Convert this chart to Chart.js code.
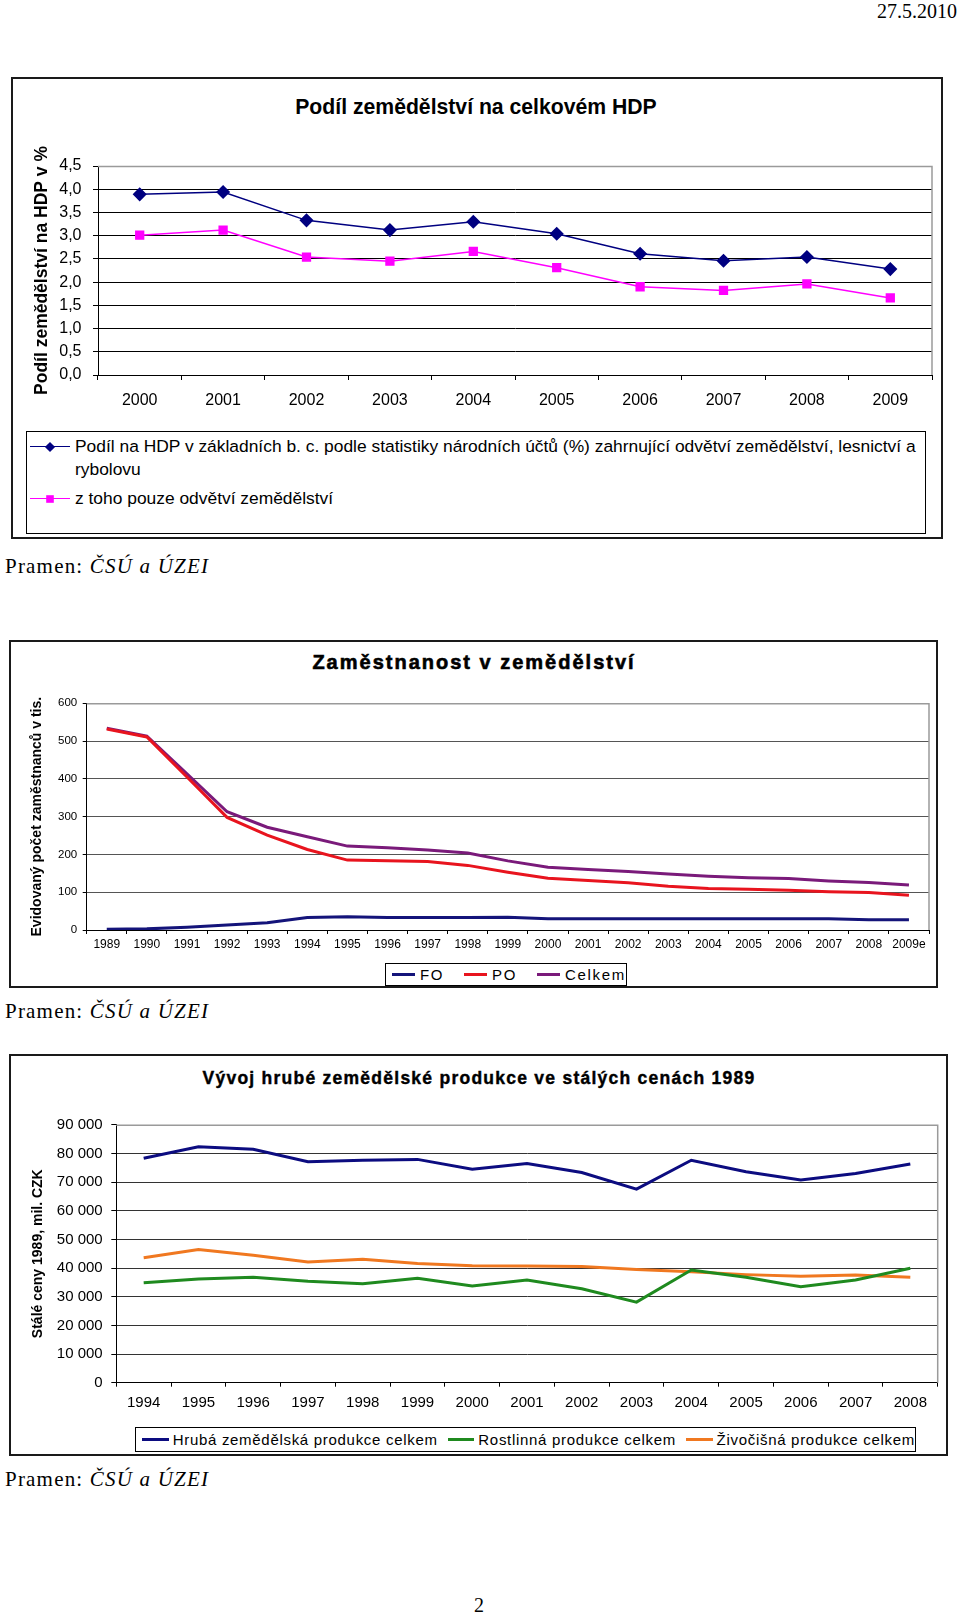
<!DOCTYPE html>
<html>
<head>
<meta charset="utf-8">
<script src="https://cdn.jsdelivr.net/npm/chart.js@4.4.1/dist/chart.umd.min.js"></script>
<style>
body { margin:0; width:960px; height:1613px; position:relative; background:#fff; overflow:hidden;
  font-family:"Liberation Sans", Arial, sans-serif; color:#000; }
.frame { position:absolute; border:2px solid #1a1a1a; box-sizing:border-box; background:#fff; }
.serif { position:absolute; font-family:"Liberation Serif","Times New Roman",serif; font-size:21px; white-space:nowrap; }
.src { letter-spacing:1.2px; }
.title { position:absolute; text-align:center; font-weight:bold; white-space:nowrap; }
canvas { position:absolute; left:0; }
.legend { position:absolute; border:1.5px solid #000; box-sizing:border-box; background:#fff; }
.mk { position:relative; display:inline-block; }
</style>
</head>
<body>
<div class="serif" style="right:3px;top:0px;font-size:20px;">27.5.2010</div>

<!-- chart 1 -->
<div class="frame" style="left:11px;top:77px;width:932px;height:462px;"></div>
<div class="title" style="left:176px;width:600px;top:95px;font-size:21.2px;">Podíl zemědělství na celkovém HDP</div>
<canvas id="c1" width="960" height="345" style="top:80px;width:960px;height:345px;"></canvas>
<div class="legend" id="lg1" style="left:26px;top:431px;width:900px;height:103px;padding:3px 0 0 0;"></div>
<div class="serif src" style="left:5px;top:554px;">Pramen: <i>ČSÚ a ÚZEI</i></div>

<!-- chart 2 -->
<div class="frame" style="left:9px;top:640px;width:929px;height:348px;"></div>
<div class="title" style="left:174px;width:600px;top:651px;font-size:20px;letter-spacing:2px;-webkit-text-stroke:0.6px #000;">Zaměstnanost v zemědělství</div>
<canvas id="c2" width="960" height="270" style="top:690px;width:960px;height:270px;"></canvas>
<div class="legend" id="lg2" style="left:385px;top:963px;width:242px;height:23px;"></div>
<div class="serif src" style="left:5px;top:999px;">Pramen: <i>ČSÚ a ÚZEI</i></div>

<!-- chart 3 -->
<div class="frame" style="left:9px;top:1054px;width:939px;height:402px;"></div>
<div class="title" style="left:179px;width:600px;top:1068px;font-size:17.5px;letter-spacing:1.25px;-webkit-text-stroke:0.4px #000;">Vývoj hrubé zemědělské produkce ve stálých cenách 1989</div>
<canvas id="c3" width="960" height="320" style="top:1100px;width:960px;height:320px;"></canvas>
<div class="legend" id="lg3" style="left:135px;top:1427px;width:781px;height:25px;"></div>
<div class="serif src" style="left:5px;top:1467px;">Pramen: <i>ČSÚ a ÚZEI</i></div>

<div class="serif" style="left:474px;top:1594px;font-size:20px;">2</div>

<script>
// --- data ---
const hdpYears = ['2000','2001','2002','2003','2004','2005','2006','2007','2008','2009'];
const hdpTotal = [3.89, 3.94, 3.33, 3.12, 3.30, 3.04, 2.61, 2.46, 2.54, 2.28];
const hdpAgri  = [3.01, 3.12, 2.54, 2.45, 2.66, 2.31, 1.90, 1.82, 1.96, 1.66];
const hdpNames = ['Podíl na HDP v základních b. c. podle statistiky národních účtů (%) zahrnující odvětví zemědělství, lesnictví a rybolovu',
                  'z toho pouze odvětví zemědělství'];
const hdpColors = ['#000080', '#ff00ff'];

const empYears = ['1989','1990','1991','1992','1993','1994','1995','1996','1997','1998','1999',
                  '2000','2001','2002','2003','2004','2005','2006','2007','2008','2009e'];
const empFO    = [2, 3, 7, 13, 19, 33, 35, 33, 33, 33, 34, 30, 30, 30, 30, 30, 30, 30, 30, 27, 27];
const empPO    = [532, 511, 405, 298, 251, 213, 185, 183, 181, 171, 153, 137, 131, 125, 116, 110, 108, 105, 101, 99, 92];
const empTotal = [534, 513, 413, 313, 272, 247, 222, 218, 212, 204, 183, 166, 160, 155, 148, 142, 138, 136, 130, 126, 119];
const empNames = ['FO', 'PO', 'Celkem'];
const empColors = ['#14147a', '#e8141e', '#7a1a7a'];

const prodYears  = ['1994','1995','1996','1997','1998','1999','2000','2001','2002','2003','2004','2005','2006','2007','2008'];
const prodTotal  = [78300, 82300, 81400, 77100, 77600, 77900, 74500, 76500, 73300, 67500, 77600, 73600, 70700, 73000, 76300];
const prodCrop   = [34900, 36200, 36800, 35400, 34500, 36400, 33700, 35800, 32800, 28100, 39300, 36800, 33500, 35800, 39900];
const prodAnimal = [43600, 46500, 44500, 42100, 43100, 41600, 40800, 40700, 40500, 39500, 38700, 37700, 37100, 37600, 36800];
const prodNames  = ['Hrubá zemědělská produkce celkem', 'Rostlinná produkce celkem', 'Živočišná produkce celkem'];
const prodColors = ['#0c0c80', '#1f8a1f', '#f07820'];

Chart.defaults.font.family = '"Liberation Sans", Arial, sans-serif';
Chart.defaults.color = '#000';

// grey top/right edge of the plot area, like the Excel originals
const plotBorder = {
  id: 'plotBorder',
  beforeDatasetsDraw(chart, args, opts) {
    const a = chart.chartArea, ctx = chart.ctx;
    ctx.save();
    ctx.strokeStyle = opts.color || '#999';
    ctx.lineWidth = 1.5;
    ctx.beginPath();
    ctx.moveTo(a.left, a.top + 0.5);
    ctx.lineTo(a.right, a.top + 0.5);
    ctx.lineTo(a.right, a.bottom);
    ctx.stroke();
    ctx.restore();
  }
};

function lineChart(id, o) {
  return new Chart(document.getElementById(id), {
    type: 'line',
    data: { labels: o.labels, datasets: o.datasets },
    plugins: [plotBorder],
    options: {
      responsive: false,
      animation: false,
      devicePixelRatio: 1,
      layout: { padding: o.padding },
      plugins: { legend: { display: false }, tooltip: { enabled: false }, plotBorder: { color: '#9a9a9a' } },
      scales: {
        x: {
          offset: true,
          grid: { offset: true, drawOnChartArea: false, color: '#000', tickLength: o.xTick },
          border: { color: '#000', width: 1 },
          ticks: { font: { size: o.xFont }, padding: o.xPad, maxRotation: 0, autoSkip: false },
          afterFit: s => { s.height = o.xHeight; }
        },
        y: {
          min: 0, max: o.max,
          grid: { color: c => (c.tick && c.tick.value === o.max) ? 'rgba(0,0,0,0)' : o.gridColor,
                  tickColor: '#000', tickLength: o.yTick },
          border: { color: '#000', width: 1 },
          ticks: { stepSize: o.step, font: { size: o.yFont }, padding: o.yPad, callback: o.fmt },
          title: { display: true, text: o.yTitle, font: o.yTitleFont, padding: { top: o.yTitlePad, bottom: 0 } },
          afterFit: s => { s.width = o.yWidth; }
        }
      }
    }
  });
}

lineChart('c1', {
  labels: hdpYears,
  datasets: [
    { label: hdpNames[0], data: hdpTotal, borderColor: hdpColors[0], backgroundColor: hdpColors[0], borderWidth: 1.5,
      pointStyle: 'rectRot', pointRadius: 6, tension: 0 },
    { label: hdpNames[1], data: hdpAgri, borderColor: hdpColors[1], backgroundColor: hdpColors[1], borderWidth: 1.5,
      pointStyle: 'rect', pointRadius: 5.5, tension: 0 }
  ],
  padding: { left: 0, top: 86, right: 28, bottom: 5 },
  max: 4.5, step: 0.5, gridColor: '#000',
  fmt: v => v.toFixed(1).replace('.', ','),
  xFont: 16, xPad: 11, xTick: 5, xHeight: 45,
  yFont: 16, yPad: 11.5, yTick: 5, yWidth: 98,
  yTitle: 'Podíl zemědělství na HDP v %', yTitleFont: { size: 17.5, weight: 'bold' }, yTitlePad: 31.5
});

lineChart('c2', {
  labels: empYears,
  datasets: empNames.map((n, i) => ({
    label: n, data: [empFO, empPO, empTotal][i], borderColor: empColors[i], borderWidth: 3,
    pointRadius: 0, tension: 0
  })),
  padding: { left: 0, top: 13.3, right: 31, bottom: 5 },
  max: 600, step: 100, gridColor: '#555',
  fmt: v => String(v),
  xFont: 12, xPad: 3, xTick: 4, xHeight: 25,
  yFont: 11.5, yPad: 5.5, yTick: 4, yWidth: 86.7,
  yTitle: 'Evidovaný počet zaměstnanců v tis.',
  yTitleFont: { size: 14, weight: 'bold', family: '"Liberation Sans Narrow", "Liberation Sans", sans-serif' }, yTitlePad: 28.3
});

lineChart('c3', {
  labels: prodYears,
  datasets: prodNames.map((n, i) => ({
    label: n, data: [prodTotal, prodCrop, prodAnimal][i], borderColor: prodColors[i], borderWidth: 3,
    pointRadius: 0, tension: 0
  })),
  padding: { left: 0, top: 24.7, right: 22.3, bottom: 5.3 },
  max: 90000, step: 10000, gridColor: '#333',
  fmt: v => String(v).replace(/\B(?=(\d{3})+(?!\d))/g, ' '),
  xFont: 15, xPad: 7.6, xTick: 4, xHeight: 32,
  yFont: 15, yPad: 8.6, yTick: 5, yWidth: 116.3,
  yTitle: 'Stálé ceny 1989, mil. CZK',
  yTitleFont: { size: 14, weight: 'bold', family: '"Liberation Sans Narrow", "Liberation Sans", sans-serif' }, yTitlePad: 29.3
});

// --- HTML legends built from the series names/colours ---
function marker(style, color) {
  const wrap = document.createElement('span');
  wrap.className = 'mk';
  wrap.style.cssText = 'width:40px;height:12px;flex:none;';
  const line = document.createElement('span');
  line.style.cssText = `position:absolute;left:0;right:0;top:5px;height:1.5px;background:${color};`;
  wrap.appendChild(line);
  const dot = document.createElement('span');
  dot.style.cssText = `position:absolute;left:16px;top:2px;width:8px;height:8px;background:${color};` +
    (style === 'diamond' ? 'transform:rotate(45deg) scale(0.9);' : 'transform:scale(0.95);');
  wrap.appendChild(dot);
  return wrap;
}

const lg1 = document.getElementById('lg1');
hdpNames.forEach((n, i) => {
  const row = document.createElement('div');
  row.style.cssText = `display:flex;align-items:flex-start;font-size:17.4px;line-height:23px;margin-top:${i ? 6 : 0}px;`;
  const m = marker(i === 0 ? 'diamond' : 'square', hdpColors[i]);
  m.style.margin = '5.5px 5px 0 3px';
  row.appendChild(m);
  const t = document.createElement('span');
  t.textContent = n;
  t.style.cssText = 'width:855px;';
  row.appendChild(t);
  lg1.appendChild(row);
});

function lineLegend(el, names, colors, o) {
  el.style.display = 'flex';
  el.style.alignItems = 'center';
  el.style.paddingLeft = o.pad + 'px';
  names.forEach((n, i) => {
    const ln = document.createElement('span');
    ln.style.cssText = `display:inline-block;width:${o.len}px;height:3px;background:${colors[i]};margin-left:${i ? o.gap : 0}px;margin-right:${o.tgap}px;`;
    el.appendChild(ln);
    const t = document.createElement('span');
    t.textContent = n;
    t.style.cssText = `font-size:15px;letter-spacing:${o.ls}px;white-space:nowrap;`;
    el.appendChild(t);
  });
}
lineLegend(document.getElementById('lg2'), empNames, empColors, { pad: 6, len: 26, gap: 20, tgap: 5, ls: 1.7 });
lineLegend(document.getElementById('lg3'), prodNames, prodColors, { pad: 6, len: 29, gap: 10, tgap: 4, ls: 0.7 });
</script>
</body>
</html>
